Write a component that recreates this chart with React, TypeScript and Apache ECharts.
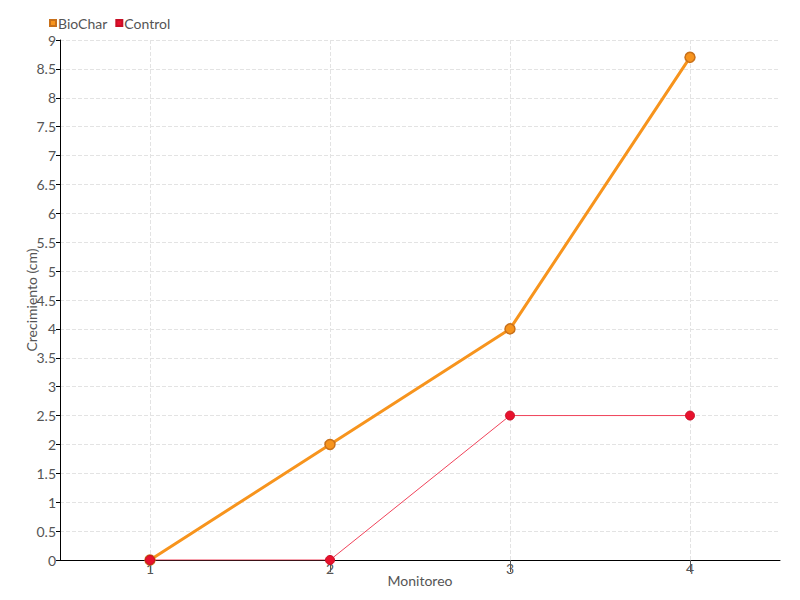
import React, { useEffect, useRef } from "react";
import * as echarts from "echarts";

const categories = ["1", "2", "3", "4"];
const biocharValues = [0, 2, 4, 8.7];
const controlValues = [0, 0, 2.5, 2.5];
const seriesNames = ["BioChar", "Control"];

const FONT = "Lato, 'Liberation Sans Narrow', sans-serif";

export default function App() {
  const ref = useRef<HTMLDivElement>(null);
  useEffect(() => {
    if (!ref.current) return;
    const chart = echarts.init(ref.current, undefined, { renderer: "svg" });
    chart.setOption({
      animation: false,
      textStyle: { fontFamily: FONT },
      legend: {
        left: 44,
        top: 11,
        itemWidth: 6,
        itemHeight: 6,
        itemGap: 8,
        icon: "rect",
        textStyle: { fontFamily: FONT, fontSize: 14, color: "#555", padding: [0, 0, 0, -3] },
        data: seriesNames,
      },
      grid: { left: 60, right: 20, top: 40, bottom: 40, containLabel: false },
      xAxis: {
        type: "category",
        data: categories,
        boundaryGap: true,
        name: "Monitoreo",
        nameLocation: "middle",
        nameGap: 13,
        nameMoveOverlap: false,
        nameTextStyle: { fontFamily: FONT, fontSize: 14, color: "#555" },
        axisLine: { lineStyle: { color: "#000", width: 1 } },
        axisTick: { show: true, alignWithLabel: true, length: 12, lineStyle: { color: "#555" } },
        axisLabel: { fontFamily: FONT, fontSize: 14, color: "#555", margin: 1 },
        splitLine: {
          show: true,
          alignWithLabel: true,
          lineStyle: { type: "dashed", color: "#e3e3e3" },
        },
      },
      yAxis: {
        type: "value",
        min: 0,
        max: 9,
        interval: 0.5,
        name: "Crecimiento (cm)",
        nameLocation: "middle",
        nameGap: 22,
        nameMoveOverlap: false,
        nameTextStyle: { fontFamily: FONT, fontSize: 14, color: "#555" },
        axisLine: { show: true, lineStyle: { color: "#000", width: 1 } },
        axisTick: { show: true, length: 4, lineStyle: { color: "#000" } },
        axisLabel: { fontFamily: FONT, fontSize: 14, color: "#555", margin: 4 },
        splitLine: { show: true, lineStyle: { type: "dashed", color: "#e3e3e3" } },
      },
      series: [
        {
          name: seriesNames[0],
          type: "line",
          data: biocharValues,
          symbol: "circle",
          symbolSize: 10,
          color: "#f7941d",
          lineStyle: { color: "#f7941d", width: 3 },
          itemStyle: { color: "#f7941d", borderColor: "#c8701a", borderWidth: 1.5 },
        },
        {
          name: seriesNames[1],
          type: "line",
          data: controlValues,
          symbol: "circle",
          symbolSize: 9,
          color: "#e8112d",
          lineStyle: { color: "#f0435a", width: 1 },
          itemStyle: { color: "#e8112d", borderColor: "#c80f26", borderWidth: 1 },
        },
      ],
    });
    return () => chart.dispose();
  }, []);
  return <div ref={ref} style={{ width: 800, height: 600, position: "absolute", left: 0, top: 0 }} />;
}
